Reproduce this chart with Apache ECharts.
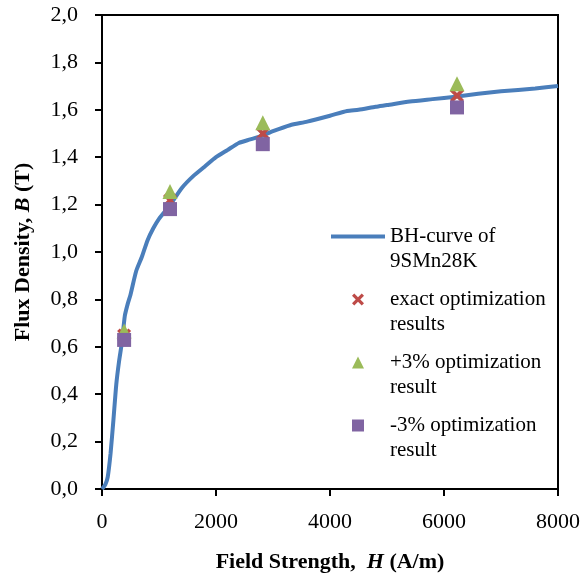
<!DOCTYPE html>
<html>
<head>
<meta charset="utf-8">
<script src="https://cdn.jsdelivr.net/npm/echarts@6/dist/echarts.min.js"></script>
<style>html,body{margin:0;padding:0;background:#fff}#c{width:583px;height:578px}</style>
</head>
<body>
<div id="c"></div>
<script>
// BH-curve of 9SMn28K
const curveH = [0, 60, 100, 150, 200, 250, 300, 350, 400, 450, 500, 600, 700, 800, 900, 1000, 1200, 1400, 1600, 1800, 2000, 2200, 2400, 2600, 2800, 3000, 3300, 3600, 4000, 4300, 4500, 4800, 5000, 5400, 5800, 6200, 6600, 7000, 7600, 8000];
const curveB = [0, 0.02, 0.05, 0.15, 0.29, 0.44, 0.54, 0.62, 0.73, 0.78, 0.82, 0.92, 0.98, 1.05, 1.10, 1.14, 1.20, 1.27, 1.32, 1.36, 1.40, 1.43, 1.46, 1.475, 1.49, 1.51, 1.535, 1.55, 1.575, 1.595, 1.60, 1.613, 1.62, 1.635, 1.645, 1.655, 1.668, 1.678, 1.69, 1.70];
// optimization results
const optH = [388, 1193, 2821, 6228];
const exactB = [0.648, 1.218, 1.50, 1.66];
const plusB = [0.667, 1.255, 1.545, 1.71];
const minusB = [0.629, 1.181, 1.455, 1.61];
const seriesNames = ['BH-curve of\n9SMn28K', 'exact optimization\nresults', '+3% optimization\nresult', '-3% optimization\nresult'];
const colors = ['#4a7ebb', '#be4b48', '#9bbb59', '#8064a2'];

const FONT = "'Liberation Serif', 'Times New Roman', serif";
const xPath = 'path://M0,1.9L1.9,0L5,3.1L8.1,0L10,1.9L6.9,5L10,8.1L8.1,10L5,6.9L1.9,10L0,8.1L3.1,5Z';
const triPath = 'path://M5,0L10,10L0,10Z';
const sqPath = 'path://M0,0L10,0L10,10L0,10Z';
const zip = (a, b) => a.map((v, i) => [v, b[i]]);

const chart = echarts.init(document.getElementById('c'), null, {renderer: 'canvas'});
chart.setOption({
  animation: false,
  textStyle: {fontFamily: FONT, color: '#000'},
  grid: {left: 102, right: 25, top: 15, bottom: 89, show: true, borderColor: '#000', borderWidth: 2, backgroundColor: 'transparent'},
  legend: {
    orient: 'vertical', left: 331, top: 199, padding: 0,
    itemWidth: 54, itemHeight: 12, itemGap: -12,
    symbolKeepAspect: true,
    itemStyle: {borderWidth: 0, opacity: 1},
    formatter: n => '\n' + n,
    textStyle: {fontFamily: FONT, fontSize: 21, lineHeight: 25, color: '#000'},
    data: [
      {name: seriesNames[0], icon: 'path://M0,0L54,0L54,4L0,4Z'},
      {name: seriesNames[1], icon: xPath},
      {name: seriesNames[2], icon: triPath},
      {name: seriesNames[3], icon: sqPath}
    ]
  },
  xAxis: {
    type: 'value', min: 0, max: 8000, interval: 2000,
    name: 'Field Strength,  {i|H} (A/m)', nameLocation: 'middle', nameGap: 62,
    nameTextStyle: {fontFamily: FONT, fontSize: 22, fontWeight: 'bold', color: '#000',
      rich: {i: {fontFamily: FONT, fontSize: 22, fontWeight: 'bold', fontStyle: 'italic', color: '#000'}}},
    axisLine: {lineStyle: {color: '#000', width: 2}},
    axisTick: {show: true, inside: false, length: 7, lineStyle: {color: '#000', width: 2}},
    axisLabel: {fontFamily: FONT, fontSize: 22, color: '#000', margin: 22, formatter: v => String(v)},
    splitLine: {show: false}
  },
  yAxis: {
    type: 'value', min: 0, max: 2, interval: 0.2,
    name: 'Flux Density, {i|B} (T)', nameLocation: 'middle', nameGap: 68,
    nameTextStyle: {fontFamily: FONT, fontSize: 22, fontWeight: 'bold', color: '#000',
      rich: {i: {fontFamily: FONT, fontSize: 22, fontWeight: 'bold', fontStyle: 'italic', color: '#000'}}},
    axisLine: {show: true, lineStyle: {color: '#000', width: 2}},
    axisTick: {show: true, inside: false, length: 7, lineStyle: {color: '#000', width: 2}},
    axisLabel: {fontFamily: FONT, fontSize: 22, color: '#000', margin: 24,
      formatter: v => v.toFixed(1).replace('.', ',')},
    splitLine: {show: false}
  },
  series: [
    {name: seriesNames[0], type: 'line', data: zip(curveH, curveB), showSymbol: false, symbol: 'none',
      smooth: 0.2, lineStyle: {color: colors[0], width: 4}, itemStyle: {color: colors[0]}, z: 2},
    {name: seriesNames[1], type: 'scatter', data: zip(optH, exactB), symbol: xPath, symbolSize: 14,
      itemStyle: {color: colors[1], opacity: 1}, z: 3},
    {name: seriesNames[2], type: 'scatter', data: zip(optH, plusB), symbol: 'triangle', symbolSize: 15,
      itemStyle: {color: colors[2], opacity: 1}, z: 4},
    {name: seriesNames[3], type: 'scatter', data: zip(optH, minusB), symbol: 'rect', symbolSize: 14,
      itemStyle: {color: colors[3], opacity: 1}, z: 5}
  ]
});
</script>
</body>
</html>
